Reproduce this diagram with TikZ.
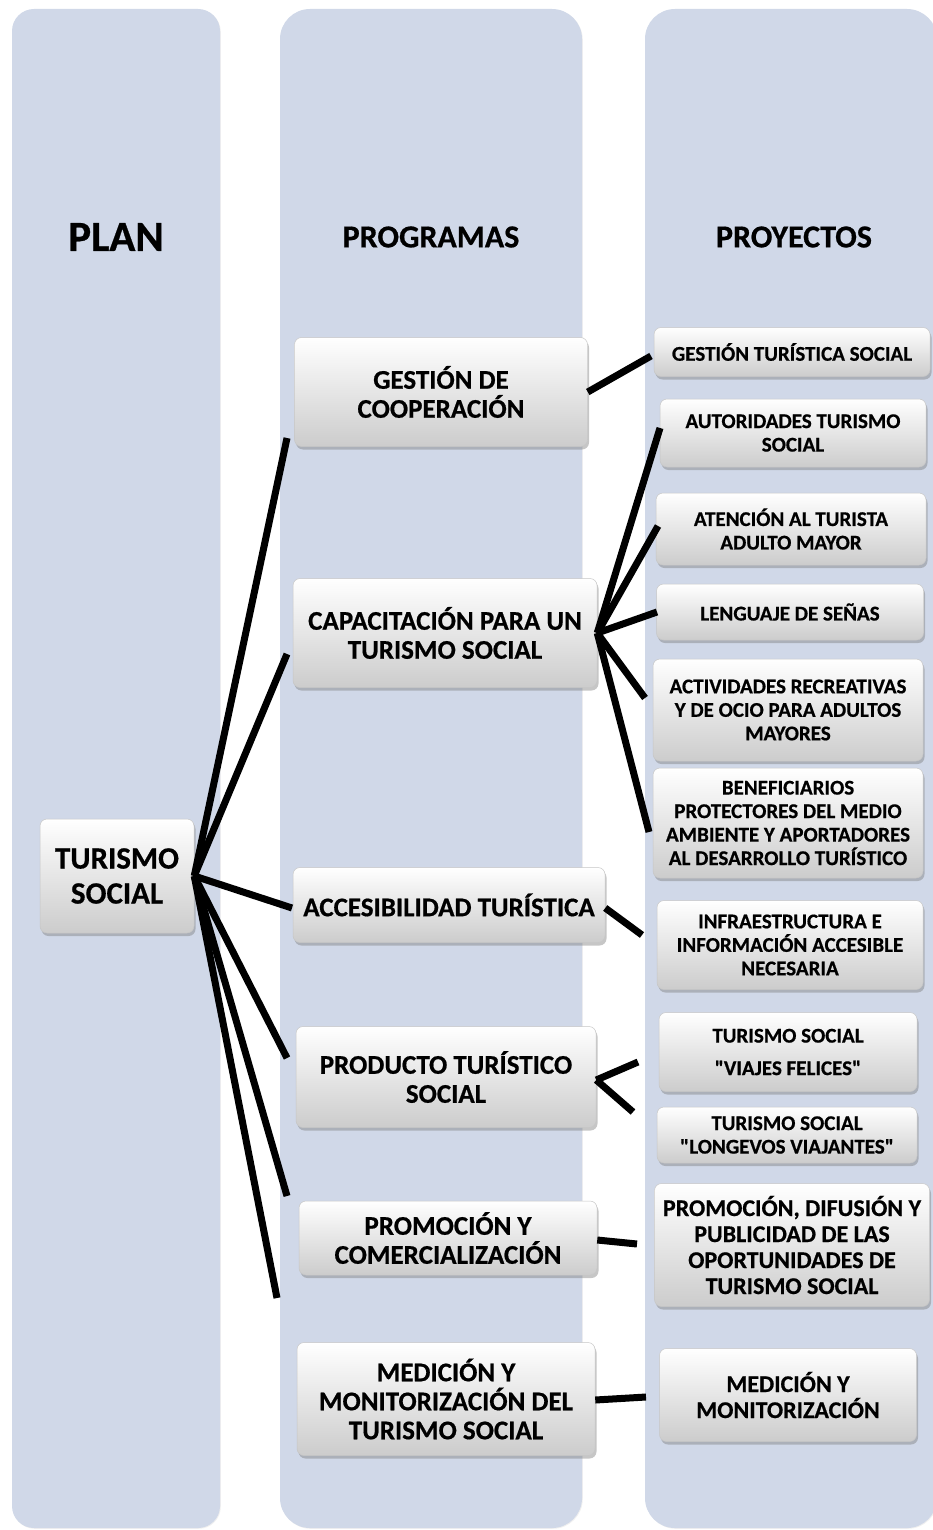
\documentclass[tikz,border=0pt]{standalone}
\usepackage{fontspec}
\setmainfont{Carlito}[BoldFeatures={FakeBold=0.6}]
\newfontfamily\rectas{Carlito}[BoldFeatures={FakeBold=0.6}]
\usetikzlibrary{shadows}
\definecolor{colfondo}{RGB}{208,216,232}
\newcommand{\comilla}{{\rectas"}}
\tikzset{
  columna/.style={fill=colfondo, drop shadow={shadow xshift=.8pt, shadow yshift=-.8pt, opacity=.12}},
  titulo/.style={font=\bfseries\fontsize{32}{36}\selectfont},
  caja/.style={rounded corners=7pt, draw=gray!45, line width=.5pt, top color=white, bottom color=black!20,
    drop shadow={shadow xshift=1.5pt, shadow yshift=-3pt, opacity=.45},
    align=center, inner sep=2pt, font=\bfseries\fontsize{21}{23.5}\selectfont},
  prog/.style={caja, font=\bfseries\fontsize{27}{29}\selectfont},
  medida/.style 2 args={minimum width=#1pt, minimum height=#2pt},
  enlace/.style={line width=7pt}
}
\begin{document}
\begin{tikzpicture}[x=1pt, y=-1pt]
\useasboundingbox (0,0) rectangle (933,1530);
% columnas
\path[columna, rounded corners=22pt] (12,9) rectangle (220,1528);
\path[columna, rounded corners=30pt] (280,9) rectangle (582,1528);
\path[columna, rounded corners=30pt] (645,9) rectangle (937,1528);
\node[titulo, font=\bfseries\fontsize{43}{48}\selectfont] (tplan) at (116,237) {PLAN};
\node[titulo] (tprog) at (431,237) {PROGRAMAS};
\node[titulo] (tproy) at (794,237) {PROYECTOS};
% plan
\node[caja, font=\bfseries\fontsize{31}{35}\selectfont, medida={154}{114}] (plan) at (117,876) {TURISMO\\SOCIAL};
% programas
\node[prog, medida={293}{109}] (coop) at (441,392) {GESTIÓN DE\\COOPERACIÓN};
\node[prog, medida={304}{109}] (cap) at (445,633) {CAPACITACIÓN PARA UN\\TURISMO SOCIAL};
\node[prog, medida={312}{75}] (acc) at (449,905) {ACCESIBILIDAD TURÍSTICA};
\node[prog, medida={300}{101}] (prod) at (446,1077) {PRODUCTO TURÍSTICO\\SOCIAL};
\node[prog, medida={298}{74}] (prom) at (448,1238) {PROMOCIÓN Y\\COMERCIALIZACIÓN};
\node[prog, medida={298}{113}] (med) at (446,1399) {MEDICIÓN Y\\MONITORIZACIÓN DEL\\TURISMO SOCIAL};
% proyectos
\node[caja, medida={276}{49}] (gtur) at (792,352) {GESTIÓN TURÍSTICA SOCIAL};
\node[caja, medida={266}{68}] (aut) at (793,433) {AUTORIDADES TURISMO\\SOCIAL};
\node[caja, medida={270}{72}] (aten) at (791,529) {ATENCIÓN AL TURISTA\\ADULTO MAYOR};
\node[caja, medida={267}{56}] (seny) at (790,612) {LENGUAJE DE SEÑAS};
\node[caja, medida={270}{102}] (act) at (788,710) {ACTIVIDADES RECREATIVAS\\Y DE OCIO PARA ADULTOS\\MAYORES};
\node[caja, medida={270}{110}] (benef) at (788,823) {BENEFICIARIOS\\PROTECTORES DEL MEDIO\\AMBIENTE Y APORTADORES\\AL DESARROLLO TURÍSTICO};
\node[caja, medida={266}{89}] (infra) at (790,945) {INFRAESTRUCTURA E\\INFORMACIÓN ACCESIBLE\\NECESARIA};
\node[caja, medida={258}{79}] (viaj) at (788,1052) {TURISMO SOCIAL\\[9pt]\comilla VIAJES FELICES\comilla};
\node[caja, medida={260}{56}] (long) at (787,1135) {TURISMO SOCIAL\\\comilla LONGEVOS VIAJANTES\comilla};
\node[caja, font=\bfseries\fontsize{24}{26}\selectfont, medida={275}{123}] (difu) at (792,1245) {PROMOCIÓN, DIFUSIÓN Y\\PUBLICIDAD DE LAS\\OPORTUNIDADES DE\\TURISMO SOCIAL};
\node[caja, font=\bfseries\fontsize{24}{26}\selectfont, medida={257}{93}] (mmon) at (788,1395) {MEDICIÓN Y\\MONITORIZACIÓN};
% extremos libres de los enlaces
\path (287,438) coordinate (a1) (287,654) coordinate (a2) (292,908) coordinate (a3)
      (287,1058) coordinate (a4) (287,1196) coordinate (a5) (277,1298) coordinate (a6)
      (660,428) coordinate (b1) (658,526) coordinate (b2) (657,612) coordinate (b3)
      (645,698) coordinate (b4) (649,832) coordinate (b5)
      (651,356) coordinate (c1) (642,935) coordinate (c2) (638,1062) coordinate (c3)
      (633,1112) coordinate (c4) (637,1244) coordinate (c5) (646,1397) coordinate (c6);
\foreach \e in {a1,a2,a3,a4,a5,a6}
  \draw[enlace] (plan.east) -- (\e);
\foreach \e in {b1,b2,b3,b4,b5}
  \draw[enlace] (cap.east) -- (\e);
\draw[enlace] (coop.east) -- (c1);
\draw[enlace] ([yshift=-3pt]acc.east) -- (c2);
\draw[enlace] ([yshift=-3pt]prod.east) -- (c3);
\draw[enlace] ([yshift=-3pt]prod.east) -- (c4);
\draw[enlace] ([yshift=-2pt]prom.east) -- (c5);
\draw[enlace] ([yshift=-1pt]med.east) -- (c6);
\end{tikzpicture}
\end{document}
